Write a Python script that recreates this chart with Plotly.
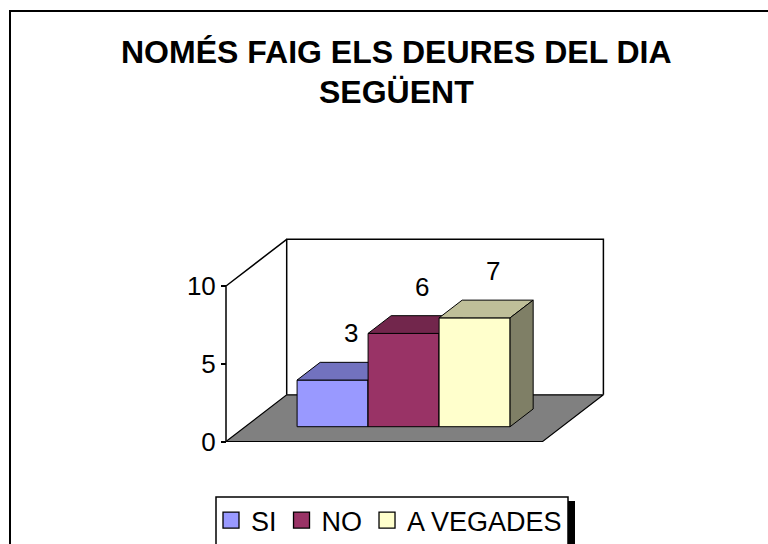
import plotly.graph_objects as go

# ---- data -------------------------------------------------------------
categories = ["SI", "NO", "A VEGADES"]
values = [3, 6, 7]
colors = ["#9999FF", "#993366", "#FFFFCC"]
tick_values = [0, 5, 10]
title_lines = ["NOMÉS FAIG ELS DEURES DEL DIA", "SEGÜENT"]

# ---- page / 3-D box geometry -----------------------------------------
W, H = 768, 544
FONT = "Liberation Sans, Arial, sans-serif"

ORIGIN_X = 226.0      # px of the front-left vertical edge
ORIGIN_Y = 441.5      # px of value 0 on that edge
PX_PER_UNIT = 15.55   # vertical pixels per value unit
Y_TOP = 10            # top of the value scale
FLOOR_W = 316.7       # width of the floor front edge (x units = px)
DEPTH_X = 60.7        # depth of the box, horizontal part (px)
DEPTH_Y = 3.0         # depth of the box, vertical part (value units)
BAR_W = 71.0          # width of one column
BAR_FRONT = 0.317     # depth fraction where the columns start
BAR_BACK = 0.697      # depth fraction where the columns end


def shade(hex_color, k):
    h = hex_color.lstrip("#")
    r, g, b = (int(h[i:i + 2], 16) for i in (0, 2, 4))
    return "#%02X%02X%02X" % (int(r * k), int(g * k), int(b * k))


def poly(xs, ys, fill, width=1.0):
    return go.Scatter(
        x=list(xs) + [xs[0]], y=list(ys) + [ys[0]],
        mode="lines", fill="toself", fillcolor=fill,
        line=dict(color="black", width=width),
        hoverinfo="skip", showlegend=False,
    )


def segment(xs, ys, width=1.5):
    return go.Scatter(x=xs, y=ys, mode="lines",
                      line=dict(color="black", width=width),
                      hoverinfo="skip", showlegend=False)


fig = go.Figure()

# back wall
fig.add_trace(segment([DEPTH_X, DEPTH_X, DEPTH_X + FLOOR_W, DEPTH_X + FLOOR_W],
                      [DEPTH_Y, DEPTH_Y + Y_TOP, DEPTH_Y + Y_TOP, DEPTH_Y]))
# left wall: front vertical edge and top diagonal
fig.add_trace(segment([0, 0, DEPTH_X], [0, Y_TOP, DEPTH_Y + Y_TOP]))
# floor
fig.add_trace(poly([0, FLOOR_W, FLOOR_W + DEPTH_X, DEPTH_X],
                   [0, 0, DEPTH_Y, DEPTH_Y], "#808080", 1.2))

# columns, painted left to right
fx, fy = BAR_FRONT * DEPTH_X, BAR_FRONT * DEPTH_Y
dx, dy = (BAR_BACK - BAR_FRONT) * DEPTH_X, (BAR_BACK - BAR_FRONT) * DEPTH_Y
n = len(values)
start = FLOOR_W / 2 - n * BAR_W / 2
label_ann = []
for i, (v, c) in enumerate(zip(values, colors)):
    x0 = start + i * BAR_W + fx
    x1 = x0 + BAR_W
    y0 = fy
    y1 = fy + v
    fig.add_trace(poly([x0, x1, x1, x0], [y0, y0, y1, y1], c))
    fig.add_trace(poly([x0, x1, x1 + dx, x0 + dx], [y1, y1, y1 + dy, y1 + dy], shade(c, 0.75)))
    fig.add_trace(poly([x1, x1 + dx, x1 + dx, x1], [y0, y0 + dy, y1 + dy, y1], shade(c, 0.5)))
    label_ann.append(dict(
        x=(x0 + x1) / 2 + 18, y=y1 + 3.0, xref="x", yref="y",
        text=str(v), showarrow=False,
        font=dict(family=FONT, size=26, color="black"),
        xanchor="center", yanchor="middle",
    ))

# legend entries
for cat, c in zip(categories, colors):
    fig.add_trace(go.Scatter(
        x=[None], y=[None], mode="markers", name=cat,
        marker=dict(symbol="square", size=16, color=c,
                    line=dict(color="black", width=1.3)),
    ))

title_font = dict(family=FONT, size=32, color="black", weight="bold")
title_ann = [
    dict(x=396 / W, y=1 - 52 / H, xref="paper", yref="paper", text=title_lines[0],
         showarrow=False, xanchor="center", yanchor="middle", font=title_font),
    dict(x=396 / W, y=1 - 91.7 / H, xref="paper", yref="paper", text=title_lines[1],
         showarrow=False, xanchor="center", yanchor="middle", font=title_font),
]

shapes = [
    # chart frame
    dict(type="rect", xref="paper", yref="paper",
         x0=10 / W, x1=1.05, y0=-0.05, y1=1 - 11 / H,
         line=dict(color="black", width=2), fillcolor="rgba(0,0,0,0)", layer="below"),
    # legend box shadow and box
    dict(type="rect", xref="paper", yref="paper",
         x0=568 / W, x1=575 / W, y0=-0.05, y1=1 - 501 / H,
         line=dict(width=0), fillcolor="black", layer="below"),
    dict(type="rect", xref="paper", yref="paper",
         x0=216 / W, x1=568 / W, y0=-0.05, y1=1 - 497 / H,
         line=dict(color="black", width=1.5), fillcolor="white", layer="below"),
]

fig.update_layout(
    width=W, height=H,
    margin=dict(l=0, r=0, t=0, b=0, autoexpand=False),
    paper_bgcolor="white", plot_bgcolor="rgba(0,0,0,0)",
    xaxis=dict(range=[-ORIGIN_X, W - ORIGIN_X], domain=[0, 1], visible=False,
               fixedrange=True),
    yaxis=dict(range=[-(H - ORIGIN_Y) / PX_PER_UNIT, ORIGIN_Y / PX_PER_UNIT],
               domain=[0, 1], anchor="free", position=ORIGIN_X / W,
               tickvals=tick_values, ticks="outside", ticklen=5, tickwidth=1.5,
               tickcolor="black", showgrid=False, zeroline=False, showline=False,
               tickfont=dict(family=FONT, size=26, color="black"),
               fixedrange=True),
    showlegend=True,
    legend=dict(orientation="h", x=211 / W, y=1 - 496 / H,
                xanchor="left", yanchor="top",
                bgcolor="rgba(0,0,0,0)", borderwidth=0,
                itemsizing="trace",
                font=dict(family=FONT, size=27, color="black")),
    annotations=title_ann + label_ann,
    shapes=shapes,
)

fig.write_html("out.html")
